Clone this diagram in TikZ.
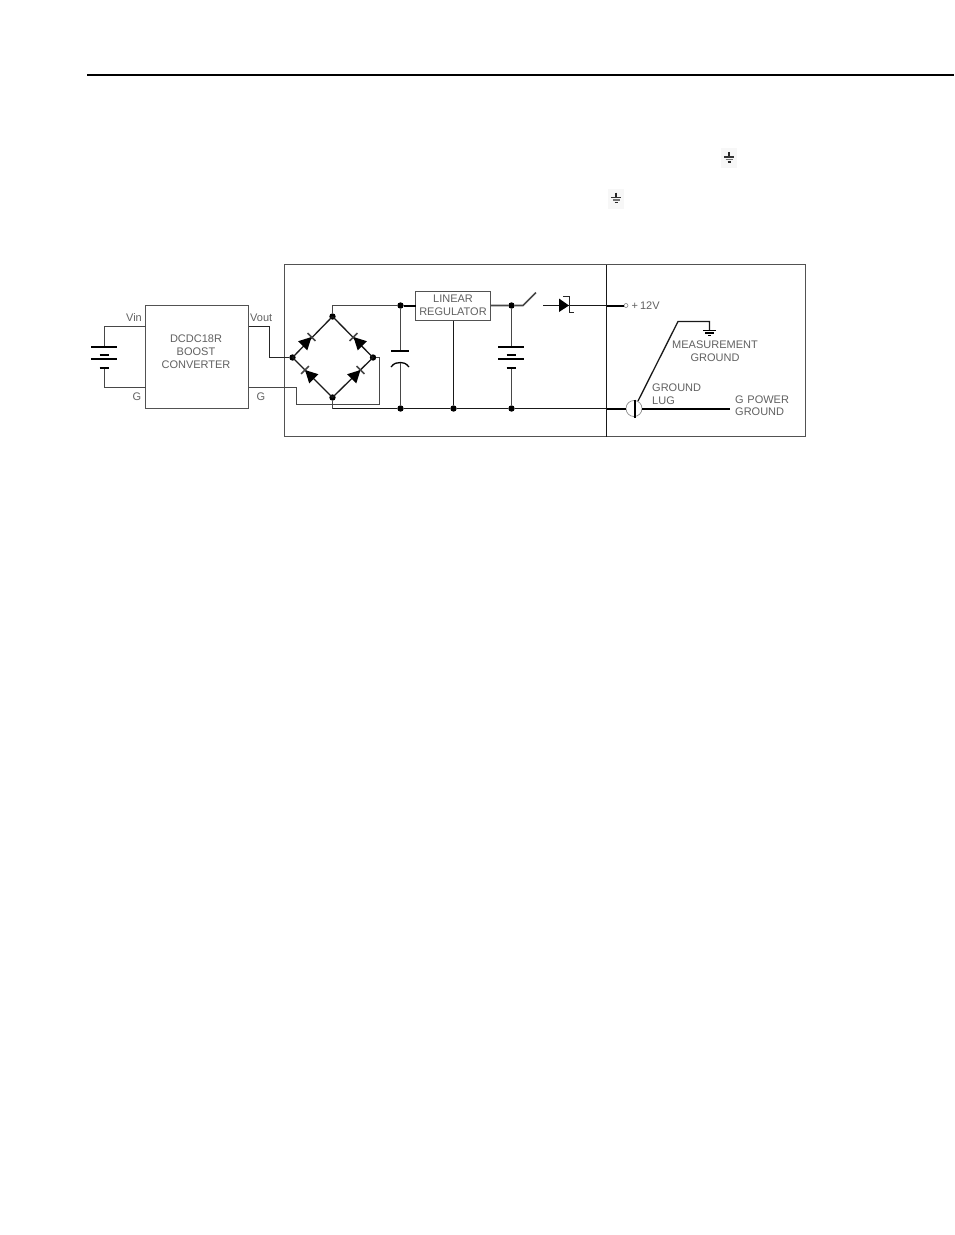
\documentclass[tikz,border=0pt]{standalone}
\usepackage{fontspec}
\setmainfont{Liberation Sans}
\newcommand{\bridgediode}[2]{\begin{scope}[shift={(#1)},rotate=#2]
  \fill (0pt,0pt) -- (-12.5pt,6.5pt) -- (-12.5pt,-6.5pt) -- cycle;
  \draw[wire] (0pt,-5.5pt) -- (0pt,5.5pt);
\end{scope}}
\newcommand{\cellstack}[2]{% x, top plate y
  \draw[plate] (#1-13,#2) -- (#1+13,#2);
  \draw[plate] (#1-4.5,#2+8) -- (#1+4.5,#2+8);
  \draw[plate] (#1-13,#2+12) -- (#1+13,#2+12);
  \draw[plate] (#1-4.5,#2+20.5) -- (#1+4.5,#2+20.5);}
\newcommand{\tinyground}[2]{%
  \fill[black!3] (#1-8,#2-10) rectangle (#1+8,#2+10);
  \draw[line width=1.8pt,black!85] (#1,#2-6) -- (#1,#2-1);
  \draw[line width=1.2pt,black!80] (#1-5,#2-1) -- (#1+5,#2-1);
  \draw[line width=1.2pt,black!55] (#1-3.5,#2+1.5) -- (#1+3.5,#2+1.5);
  \draw[line width=1.4pt,black!85] (#1-1.5,#2+4) -- (#1+1.5,#2+4);}
\tikzset{
  wire/.style={line width=1.6pt,black!72},
  rail/.style={line width=1.3pt,black!90},
  heavy/.style={line width=2pt,black},
  plate/.style={line width=2pt,black},
  outline/.style={draw,line width=1.6pt,black!68,fill=none,outer sep=0pt,inner sep=0pt,anchor=north west},
  label/.style={inner sep=0pt,font=\fontsize{11}{11}\selectfont,text=black!62,align=center},
  labell/.style={label,anchor=west,align=left},
  dot/.style={circle,fill=black,inner sep=0pt,minimum size=6.4pt},
}
\begin{document}
\begin{tikzpicture}[x=1pt,y=-1pt]
\useasboundingbox (0,0) rectangle (954,1235);
\fill[white] (0,0) rectangle (954,1235);
% header rule
\coordinate (ruleL) at (87,75); \coordinate (ruleR) at (954,75);
\draw[line width=2pt] (ruleL) -- (ruleR);
\tinyground{729}{158}
\tinyground{616}{198.5}
% enclosures
\node[outline,minimum width=322pt,minimum height=172pt] (left) at (284.5,264.5) {};
\node[outline,minimum width=199pt,minimum height=172pt] (right) at (606.5,264.5) {};
\draw[line width=1.4pt,black!90] (left.north east) -- (left.south east);
% converter
\node[outline,minimum width=103pt,minimum height=103pt] (conv) at (145.5,305.5) {};
\node[label] (convt) at (196,352) {DCDC18R\\[2.2pt]BOOST\\[2.2pt]CONVERTER};
\node[label] (vin) at (134,318) {Vin};
\node[labell] (vout) at (250,318) {Vout};
\node[label] (g1) at (137,397) {G};
\node[label] (g2) at (261,397) {G};
% regulator
\node[outline,minimum width=75pt,minimum height=29pt,fill=white] (reg) at (415.5,291.5) {};
\node[label] (regt) at (453,305.5) {LINEAR\\[2.5pt]REGULATOR};
% input battery
\coordinate (vinp) at (145.5,326.5); \coordinate (gnd1) at (145.5,387.5);
\coordinate (b1t) at (104.5,347); \coordinate (b1b) at (104.5,367.5);
\draw[wire] (vinp) -- (104.5,326.5) -- (b1t);
\draw[wire] (gnd1) -- (104.5,387.5) -- (b1b);
\cellstack{104}{347}
% bridge
\node[dot] (top) at (332.5,316.5) {};
\node[dot] (lft) at (292.5,357.5) {};
\node[dot] (rgt) at (373,357.5) {};
\node[dot] (bot) at (332.5,397.5) {};
\draw[rail] (top.center) -- (lft.center) -- (bot.center) -- (rgt.center) -- (top.center);
\bridgediode{311.5,337}{45}
\bridgediode{353.5,337}{135}
\bridgediode{305,370}{135}
\bridgediode{360.5,370}{45}
% bridge wiring
\coordinate (voutp) at (248.5,326.5); \coordinate (gnd2) at (248.5,387.5);
\draw[wire,black!85] (voutp) -- (269.5,326.5) -- (269.5,357.5) -- (lft);
\draw[wire] (gnd2) -- (296.5,387.5) -- (296.5,404.5) -- (379.5,404.5) -- (379.5,357.5) -- (rgt);
% rails
\node[dot] (c1) at (400.5,305.5) {};
\node[dot] (c2) at (400.5,408.5) {};
\node[dot] (r2) at (453.5,408.5) {};
\node[dot] (b1) at (511.5,305.5) {};
\node[dot] (b2) at (511.5,408.5) {};
\coordinate (botl) at (332.5,408.5);
\coordinate (div) at (606.5,408.5);
\coordinate (sw1) at (523,305.5); \coordinate (sw2) at (536,292.5);
\coordinate (d1) at (543,305.5); \coordinate (div2) at (606.5,305.5);
\draw[wire] (top) -- (332.5,305.5) -- (c1);
\draw[heavy] (c1) -- (reg.west |- c1);
\draw[wire] (reg.east |- b1) -- (b1) -- (sw1) -- (sw2);
\draw[wire] (bot) -- (botl);
\draw[rail] (botl) -- (c2) -- (r2) -- (b2) -- (div);
\draw[rail] (r2 |- reg.south) -- (r2);
% reservoir capacitor
\coordinate (capt) at (400.5,350.5); \coordinate (capb) at (400.5,362.5);
\draw[wire] (c1) -- (capt);
\draw[plate] (391,350.5) -- (409,350.5);
\draw[line width=1.3pt] (391,367) .. controls (394,363) and (397,362.5) .. (capb) .. controls (403,362.5) and (406,363) .. (409,367);
\draw[wire] (capb) -- (c2);
% backup battery
\draw[wire] (b1) -- (511.5,347);
\draw[wire] (511.5,367.5) -- (b2);
\cellstack{511}{347}
% zener
\draw[rail] (d1) -- (div2);
\fill (569,305.5) -- (559,298.5) -- (559,312) -- cycle;
\draw[line width=1.1pt,black!85] (563,296.5) -- (569.5,296.5) -- (569.5,312.5) -- (573.5,312.5);
% output terminal
\node[circle,draw=black!50,line width=.6pt,inner sep=0pt,minimum size=4pt] (term) at (626,305.5) {};
\draw[heavy] (div2) -- (term);
\node[labell] (v12) at (631.5,306) {+\kern2pt 12V};
% ground lug
\node[circle,draw=black!45,line width=.7pt,inner sep=0pt,minimum size=16pt] (lug) at (634,408.5) {};
\draw[heavy] (div) -- (lug.west);
\draw[line width=2pt] (635,399.5) -- (635,417.5);
\coordinate (pwr) at (730,408.5);
\draw[heavy] (lug.east) -- (pwr);
\coordinate (mg) at (709.5,330);
\draw[rail] (638,401) -- (678,321.5) -- (709.5,321.5) -- (mg);
\draw[line width=1.1pt] (703,330.5) -- (716,330.5);
\draw[line width=1.1pt] (705,333) -- (714,333);
\draw[line width=1.1pt] (708,335.5) -- (711,335.5);
\node[label] (mgt) at (715,351.5) {MEASUREMENT\\[2pt]GROUND};
\node[labell] (lugt) at (652,394.5) {GROUND\\[2pt]LUG};
\node[labell] (pgt) at (735,406) {G\,\,POWER\\[1pt]GROUND};
\end{tikzpicture}
\end{document}
